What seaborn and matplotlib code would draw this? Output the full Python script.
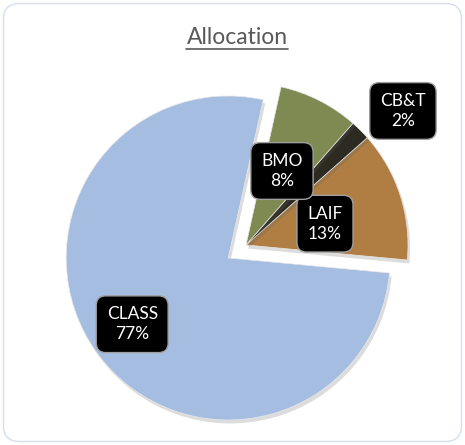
import numpy as np
import matplotlib
matplotlib.use("Agg")
import matplotlib.pyplot as plt
import matplotlib.patheffects as pe
from matplotlib.patches import FancyBboxPatch
from matplotlib.lines import Line2D
import seaborn as sns

# ---- data ----
categories = ["CLASS", "LAIF", "CB&T", "BMO"]
shares = [77, 13, 2, 8]
title_text = "Allocation"

# ---- style ----
sns.set_theme(style="white")
plt.rcParams['font.family'] = ['Lato', 'DejaVu Sans']

colors = ["#A4BDE1", "#B07E42", "#2D2A22", "#7F8A52"]
explode = [0.136, 0, 0, 0]
# per-label placement (radial distance in radius units, angle offset in degrees)
label_dist = [0.72, 0.505, 1.274, 0.508]
label_dang = [-1.5, -3.0, -4.6, 1.0]

W, H = 465, 445
fig = plt.figure(figsize=(W / 100, H / 100), dpi=100)
fig.patch.set_facecolor("white")

# rounded outer border
border = FancyBboxPatch((3.5 / W, 3.5 / H), (W - 7) / W, (H - 7) / H,
                        boxstyle="round,pad=0,rounding_size=0.035",
                        transform=fig.transFigure, fill=False,
                        edgecolor="#D5DEEE", linewidth=1.0)
fig.patches.append(border)

ax = fig.add_axes([0, 0, 1, 1])
ax.set_facecolor("none")

wedges, _ = ax.pie(shares, colors=colors, explode=explode, startangle=77.5,
                   counterclock=True, radius=1.0,
                   wedgeprops=dict(edgecolor="#E8E8E8", linewidth=0.5))

for w in wedges:
    w.set_path_effects([pe.SimplePatchShadow(offset=(1.5, -2.5), shadow_rgbFace="#606060", alpha=0.22),
                        pe.Normal()])

# axes scaling: pie centre at pixel (246, 245 from top), 162 px per radius
cx, cy, scale = 246, 245, 162
ax.set_xlim(-cx / scale, (W - cx) / scale)
ax.set_ylim(-(H - cy) / scale, cy / scale)
ax.set_aspect("equal")
ax.axis("off")

for i, w in enumerate(wedges):
    mid = np.deg2rad((w.theta1 + w.theta2) / 2)
    ox, oy = w.center
    ang = mid + np.deg2rad(label_dang[i])
    r = label_dist[i] * w.r
    x = ox + r * np.cos(ang)
    y = oy + r * np.sin(ang)
    ax.text(x, y, f"{categories[i]}\n{shares[i]}%", ha="center", va="center",
            color="white", fontsize=12.5, linespacing=1.3,
            bbox=dict(boxstyle="round,pad=0.6,rounding_size=0.55",
                      facecolor="black", edgecolor="#A0A0A0", linewidth=1.0),
            zorder=5)

# title with underline
t = fig.text(237 / W, 1 - 37 / H, title_text, ha="center", va="center",
             fontsize=16.5, color="#595959")
fig.canvas.draw()
bb = t.get_window_extent(renderer=fig.canvas.get_renderer())
uy = (H - 48.5) / H
fig.add_artist(Line2D([bb.x0 / W, bb.x1 / W], [uy, uy], transform=fig.transFigure,
                      color="#595959", linewidth=1.2))

fig.savefig("out.png", dpi=100, facecolor="white")
